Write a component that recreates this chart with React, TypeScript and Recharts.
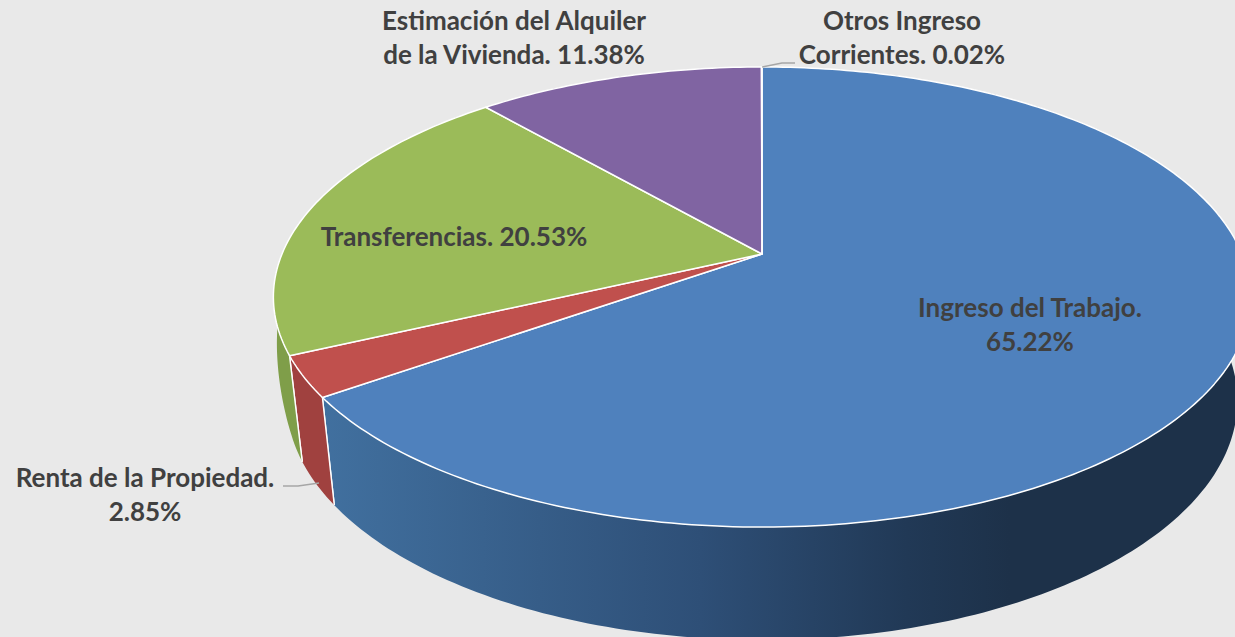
import React from "react";
import { PieChart, Pie, Cell } from "recharts";

const categories = ["Ingreso del Trabajo", "Renta de la Propiedad", "Transferencias", "Estimación del Alquiler de la Vivienda", "Otros Ingreso Corrientes"];
const shares = [65.22, 2.85, 20.53, 11.38, 0.02];
const labelLines = [
  ["Ingreso del Trabajo.", "65.22%"],
  ["Renta de la Propiedad.", "2.85%"],
  ["Transferencias. 20.53%"],
  ["Estimación del Alquiler", "de la Vivienda. 11.38%"],
  ["Otros Ingreso", "Corrientes. 0.02%"],
];
const topColors = ["#4f81bd", "#c0504d", "#9bbb59", "#8064a2", "#4f81bd"];
const wallColors = ["url(#blueWall)", "#a0413f", "#7f9e49", "#6a5387", "#3a6090"];

// layout (not data)
const W = 1235, H = 637, CX = 762, CY = 254, R = 480;
const K = 0.187, A = 222;
const BOTTOM = { sx: 0.973, sy: 1.04, dy: 102 };
const labelAnchors = [[1030, 317], [145, 487], [454, 246], [514, 30], [902, 30]];
const LINE_H = 34;
const leaders = ["", "M283 486 L298 486 L319 483", "", "", "M762 67 L782 63 L795 63"];

const data = categories.map((name, i) => ({ name, value: shares[i] }));

function project(deg: number, bottom = false) {
  const a = (deg * Math.PI) / 180;
  const X = Math.cos(a), Y = Math.sin(a);
  const w = 1 + K * Y;
  let x = (R * X) / w;
  let y = (-A * Y) / w;
  if (bottom) {
    const cw = 90 - deg; // clockwise from the top
    const flare = cw > 250 && cw < 300 ? 0.0000925 * (cw - 250) * (cw - 250) : 0;
    x *= BOTTOM.sx + flare;
    y = y * BOTTOM.sy + BOTTOM.dy;
  }
  return [CX + x, CY + y];
}
function arc(start: number, end: number, bottom = false) {
  const n = Math.max(2, Math.ceil(Math.abs(end - start) / 1));
  const pts: number[][] = [];
  for (let i = 0; i <= n; i++) pts.push(project(start + ((end - start) * i) / n, bottom));
  return pts;
}
const toPath = (pts: number[][]) => pts.map((p, i) => `${i ? "L" : "M"}${p[0].toFixed(2)} ${p[1].toFixed(2)}`).join(" ");

function TopSlice(props: any) {
  const { startAngle, endAngle, fill } = props;
  const d = `M${CX} ${CY} ` + toPath(arc(startAngle, endAngle)).replace(/^M/, "L") + " Z";
  return <path d={d} fill={fill} stroke="#ffffff" strokeWidth={1.5} strokeLinejoin="round" />;
}
function WallSlice(props: any) {
  const { startAngle, endAngle, fill } = props;
  const t = arc(startAngle, endAngle);
  const b = arc(startAngle, endAngle, true).reverse();
  const edge = (p: number[], q: number[]) => `M${p[0]} ${p[1]} L${q[0]} ${q[1]}`;
  return (
    <g>
      <path d={toPath([...t, ...b]) + " Z"} fill={fill} stroke="none" />
      <path d={edge(t[0], b[b.length - 1]) + " " + edge(t[t.length - 1], b[0])} stroke="#ffffff" strokeWidth={1.4} fill="none" />
    </g>
  );
}
function renderLabel(props: any) {
  const i = props.index;
  const [x, y] = labelAnchors[i];
  return (
    <g key={i}>
      {leaders[i] ? <path d={leaders[i]} fill="none" stroke="#a6a6a6" strokeWidth={1.4} /> : null}
      <text x={x} y={y} textAnchor="middle" fontFamily="Lato, Carlito, sans-serif" fontWeight={700} fontSize={26} fill="#404040">
        {labelLines[i].map((l, j) => (
          <tspan key={j} x={x} y={y + j * LINE_H}>{l}</tspan>
        ))}
      </text>
    </g>
  );
}

export default function App() {
  return (
    <div style={{ position: "absolute", left: 0, top: 0, width: W, height: H, background: "#e9e9e9", overflow: "hidden" }}>
      <PieChart width={W} height={H} margin={{ top: 0, right: 0, bottom: 0, left: 0 }}>
        <defs>
          <linearGradient id="blueWall" gradientUnits="userSpaceOnUse" x1={322} y1={0} x2={1010} y2={0}>
            <stop offset="0" stopColor="#41709f" />
            <stop offset="0.55" stopColor="#2e4f77" />
            <stop offset="0.85" stopColor="#213956" />
            <stop offset="1" stopColor="#1d3149" />
          </linearGradient>
        </defs>
        <Pie data={data} dataKey="value" nameKey="name" cx={CX} cy={CY} outerRadius={R} innerRadius={0}
          startAngle={90} endAngle={-270} paddingAngle={0} stroke="none"
          isAnimationActive={false} shape={WallSlice} label={false} labelLine={false}>
          {data.map((_, i) => <Cell key={i} fill={wallColors[i]} />)}
        </Pie>
        <Pie data={data} dataKey="value" nameKey="name" cx={CX} cy={CY} outerRadius={R} innerRadius={0}
          startAngle={90} endAngle={-270} paddingAngle={0}
          isAnimationActive={false} shape={TopSlice} label={renderLabel} labelLine={false}>
          {data.map((_, i) => <Cell key={i} fill={topColors[i]} />)}
        </Pie>
      </PieChart>
    </div>
  );
}
